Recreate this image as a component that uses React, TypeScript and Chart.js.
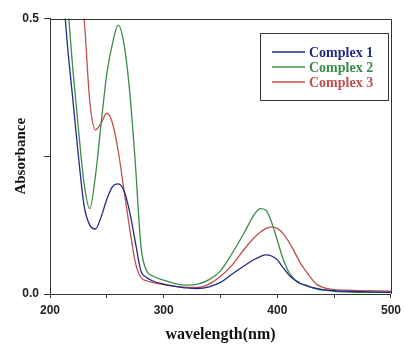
import React, { useEffect, useRef } from "react";
import { Chart, registerables } from "chart.js";

Chart.register(...registerables);

const wavelengths = [205, 210, 215, 220, 225, 230, 235, 240, 245, 250, 255, 260, 265, 270, 275, 280, 285, 290, 300, 310, 320, 330, 340, 350, 360, 370, 380, 385, 390, 395, 400, 405, 410, 415, 420, 425, 430, 435, 440, 450, 460, 480, 500];

const complex1 = [0.78, 0.6, 0.46, 0.355, 0.25, 0.16, 0.125, 0.118, 0.14, 0.172, 0.195, 0.2, 0.188, 0.15, 0.095, 0.042, 0.03, 0.024, 0.018, 0.014, 0.011, 0.01, 0.013, 0.021, 0.036, 0.05, 0.063, 0.068, 0.071, 0.069, 0.062, 0.048, 0.035, 0.026, 0.019, 0.016, 0.012, 0.01, 0.008, 0.006, 0.005, 0.004, 0.003];

const complex2 = [0.85, 0.68, 0.54, 0.41, 0.3, 0.2, 0.155, 0.215, 0.31, 0.4, 0.455, 0.488, 0.455, 0.37, 0.24, 0.087, 0.042, 0.033, 0.025, 0.019, 0.016, 0.018, 0.026, 0.042, 0.073, 0.108, 0.145, 0.155, 0.152, 0.13, 0.097, 0.064, 0.04, 0.027, 0.02, 0.015, 0.012, 0.009, 0.007, 0.005, 0.004, 0.003, 0.003];

const complex3 = [1.2, 0.95, 0.8, 0.68, 0.58, 0.5, 0.35, 0.298, 0.31, 0.328, 0.31, 0.26, 0.19, 0.12, 0.058, 0.03, 0.024, 0.021, 0.017, 0.014, 0.012, 0.012, 0.018, 0.032, 0.052, 0.079, 0.103, 0.112, 0.119, 0.122, 0.119, 0.11, 0.095, 0.077, 0.057, 0.042, 0.028, 0.017, 0.012, 0.008, 0.007, 0.006, 0.005];

const seriesLabels = ["Complex 1", "Complex 2", "Complex 3"];
const seriesColors = ["#232a86", "#3b8c48", "#c0504d"];
const xTickLabels = [200, 300, 400, 500];
const yTickLabels = [0, 0.5];

const framePlugin = {
  id: "frame",
  afterDatasetsDraw(chart: any) {
    const { ctx, chartArea } = chart;
    const { left, right, top, bottom } = chartArea;
    ctx.save();
    ctx.strokeStyle = "#333";
    ctx.lineWidth = 1;
    ctx.beginPath();
    ctx.moveTo(left, Math.round(top) + 0.5);
    ctx.lineTo(Math.round(right) + 0.5, Math.round(top) + 0.5);
    ctx.lineTo(Math.round(right) + 0.5, bottom);
    ctx.stroke();
    // small outward tick at 0.5 continues the top line
    ctx.restore();
  },
};

const legendBoxPlugin = {
  id: "legendBox",
  afterDraw(chart: any) {
    const { ctx } = chart;
    const bx = 260.5, by = 33.5, bw = 128, bh = 67;
    ctx.save();
    ctx.fillStyle = "#ffffff";
    ctx.fillRect(bx, by, bw, bh);
    ctx.strokeStyle = "#333";
    ctx.lineWidth = 1;
    ctx.strokeRect(bx, by, bw, bh);
    ctx.font = "bold 14px 'Liberation Serif', serif";
    ctx.textBaseline = "middle";
    ctx.textAlign = "left";
    chart.data.datasets.forEach((ds: any, i: number) => {
      const y = 52 + i * 15;
      ctx.strokeStyle = ds.borderColor;
      ctx.lineWidth = 1.3;
      ctx.beginPath();
      ctx.moveTo(272, y);
      ctx.lineTo(305, y);
      ctx.stroke();
      ctx.fillStyle = ds.borderColor;
      ctx.fillText(ds.label, 309, y + 1);
    });
    ctx.restore();
  },
};

export default function App() {
  const canvasRef = useRef<HTMLCanvasElement | null>(null);

  useEffect(() => {
    if (!canvasRef.current) return;
    const seriesData = [complex1, complex2, complex3];
    const chart = new Chart(canvasRef.current, {
      type: "line",
      data: {
        datasets: seriesData.map((vals, i) => ({
          label: seriesLabels[i],
          data: wavelengths.map((w, j) => ({ x: w, y: vals[j] })),
          borderColor: seriesColors[i],
          backgroundColor: seriesColors[i],
          borderWidth: 1.3,
          pointRadius: 0,
          cubicInterpolationMode: "monotone" as const,
          fill: false,
        })),
      },
      options: {
        responsive: false,
        animation: false,
        layout: {
          autoPadding: false,
          padding: { left: 0, top: 18.5, right: 9, bottom: 0 },
        },
        plugins: {
          legend: { display: false },
          tooltip: { enabled: false },
        },
        scales: {
          x: {
            type: "linear",
            min: 200,
            max: 500,
            afterFit: (scale: any) => {
              scale.height = 50;
            },
            ticks: {
              stepSize: 50,
              autoSkip: false,
              maxRotation: 0,
              padding: 5,
              color: "#222",
              font: { family: "'Liberation Sans', sans-serif", size: 12, weight: "bold" },
              callback: (v: any) => (xTickLabels.includes(Number(v)) ? String(v) : ""),
            },
            grid: {
              display: true,
              drawOnChartArea: false,
              drawTicks: true,
              tickLength: 4,
              color: "#333",
            },
            border: { display: true, color: "#333", width: 1 },
            title: {
              display: true,
              text: "wavelength(nm)",
              color: "#111",
              font: { family: "'Liberation Serif', serif", size: 16, weight: "bold", lineHeight: 1.1 },
              padding: { top: 0, bottom: 0 },
            },
          },
          y: {
            type: "linear",
            min: 0,
            max: 0.5,
            afterFit: (scale: any) => {
              scale.width = 50;
            },
            ticks: {
              stepSize: 0.25,
              autoSkip: false,
              padding: 5,
              color: "#222",
              font: { family: "'Liberation Sans', sans-serif", size: 12, weight: "bold" },
              callback: (v: any) =>
                yTickLabels.includes(Number(v)) ? Number(v).toFixed(1) : "",
            },
            grid: {
              display: true,
              drawOnChartArea: false,
              drawTicks: true,
              tickLength: 6,
              color: "#333",
            },
            border: { display: true, color: "#333", width: 1 },
            title: {
              display: true,
              text: "Absorbance",
              color: "#111",
              font: { family: "'Liberation Serif', serif", size: 15, weight: "bold", lineHeight: 1.2 },
              padding: { top: 12.5, bottom: 0 },
            },
          },
        },
      },
      plugins: [framePlugin, legendBoxPlugin],
    });
    return () => chart.destroy();
  }, []);

  return (
    <div style={{ position: "fixed", left: 0, top: 0, width: 406, height: 344, background: "#fff" }}>
      <canvas ref={canvasRef} width={406} height={344} style={{ display: "block" }} />
    </div>
  );
}
